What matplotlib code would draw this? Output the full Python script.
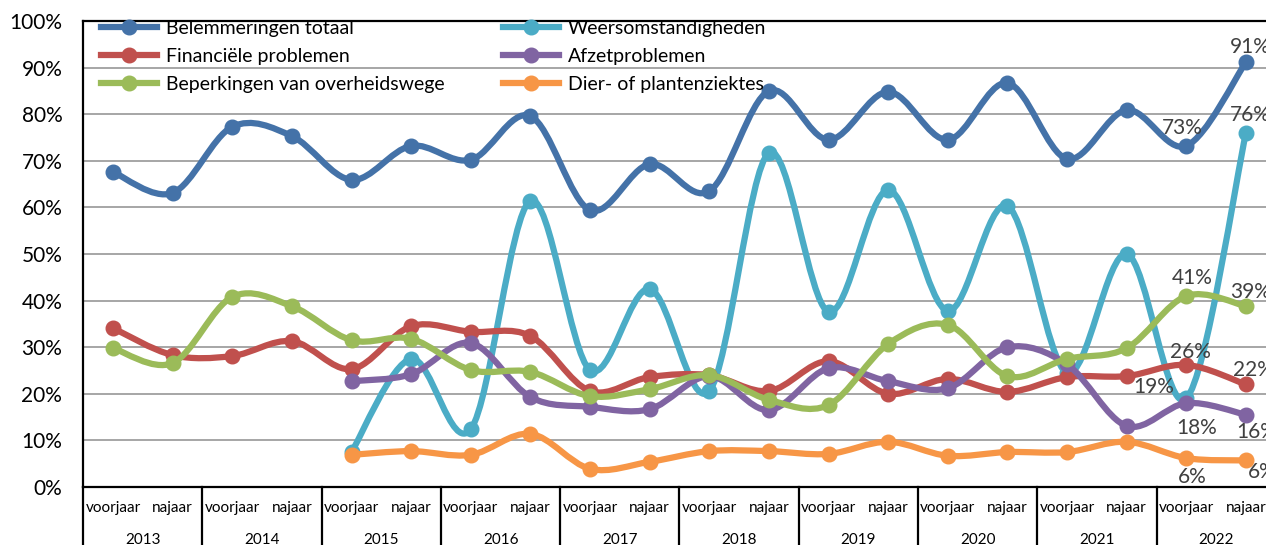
import numpy as np
import matplotlib
matplotlib.use("Agg")
import matplotlib.pyplot as plt
from matplotlib.path import Path
from matplotlib.patches import PathPatch
from matplotlib.lines import Line2D

plt.rcParams['font.family'] = ['Lato', 'DejaVu Sans']

years = ['2013', '2014', '2015', '2016', '2017', '2018', '2019', '2020', '2021', '2022']
seasons = ['voorjaar', 'najaar']
nan = np.nan

belemmeringen = [67.6, 63.1, 77.3, 75.3, 65.9, 73.2, 70.2, 79.6, 59.4, 69.3,
                 63.5, 85.0, 74.5, 84.8, 74.5, 86.7, 70.4, 80.9, 73.2, 91.2]
weer = [nan, nan, nan, nan, 7.5, 27.5, 12.4, 61.4, 25.1, 42.5,
        20.6, 71.7, 37.6, 63.7, 37.8, 60.3, 24.5, 50.0, 19.0, 76.0]
financieel = [34.1, 28.3, 28.1, 31.3, 25.3, 34.5, 33.3, 32.4, 20.6, 23.6,
              24.0, 20.6, 27.0, 20.0, 23.2, 20.4, 23.6, 23.8, 26.2, 22.0]
afzet = [nan, nan, nan, nan, 22.7, 24.2, 30.9, 19.3, 17.2, 16.7,
         23.8, 16.5, 25.5, 22.7, 21.2, 30.0, 26.3, 13.1, 18.0, 15.5]
beperkingen = [29.8, 26.6, 40.8, 38.8, 31.5, 31.8, 25.1, 24.7, 19.5, 21.0,
               24.0, 18.7, 17.6, 30.7, 34.8, 23.8, 27.5, 29.8, 41.0, 38.8]
dier = [nan, nan, nan, nan, 6.9, 7.7, 6.9, 11.4, 3.9, 5.4,
        7.7, 7.7, 7.1, 9.7, 6.7, 7.5, 7.5, 9.7, 6.2, 5.7]

# label texts for the last two points of each series
lab_belemmeringen = ['73%', '91%']
lab_weer = ['19%', '76%']
lab_financieel = ['26%', '22%']
lab_afzet = ['18%', '16%']
lab_beperkingen = ['41%', '39%']
lab_dier = ['6%', '6%']

# (name, values, colour, labels, label offsets (dx in categories, dy in % points))
series = [
    ('Belemmeringen totaal', belemmeringen, '#4472A8', lab_belemmeringen,
     [(-0.07, 3.8), (0.07, 3.2)]),
    ('Weersomstandigheden', weer, '#4BACC6', lab_weer,
     [(-0.55, 2.5), (0.07, 3.8)]),
    ('Financiële problemen', financieel, '#C0504D', lab_financieel,
     [(0.07, 2.8), (0.12, 3.1)]),
    ('Afzetproblemen', afzet, '#8064A2', lab_afzet,
     [(0.17, -5.3), (0.18, -3.7)]),
    ('Beperkingen van overheidswege', beperkingen, '#9BBB59', lab_beperkingen,
     [(0.1, 3.8), (0.07, 3.0)]),
    ('Dier- of plantenziektes', dier, '#F79646', lab_dier,
     [(0.1, -4.1), (0.27, -2.5)]),
]

W, H = 1266, 545
fig = plt.figure(figsize=(W / 100, H / 100), dpi=100)
ax = fig.add_axes([83.2 / W, 1 - 487 / H, 1192.6 / W, 466 / H])

n = len(belemmeringen)
x = np.arange(n)


def smooth_path(xs, ys):
    pts = np.column_stack([xs, ys])
    verts = [pts[0]]
    codes = [Path.MOVETO]
    m = len(pts)
    for i in range(m - 1):
        p0 = pts[i - 1] if i > 0 else pts[i]
        p1 = pts[i]
        p2 = pts[i + 1]
        p3 = pts[i + 2] if i + 2 < m else pts[i + 1]
        c1 = p1 + (p2 - p0) / 6.0
        c2 = p2 - (p3 - p1) / 6.0
        verts += [c1, c2, p2]
        codes += [Path.CURVE4] * 3
    return Path(verts, codes)


lw = 4.5
ms = 10.5
for k, (name, vals, col, labels, offs) in enumerate(series):
    v = np.array(vals, dtype=float)
    ok = ~np.isnan(v)
    xs, ys = x[ok], v[ok]
    patch = PathPatch(smooth_path(xs, ys), facecolor='none', edgecolor=col,
                      lw=lw, capstyle='round', joinstyle='round', zorder=3 + k)
    ax.add_patch(patch)
    ax.plot(xs, ys, 'o', color=col, ms=ms, zorder=3 + k, clip_on=False)
    for j, (txt, (dx, dy)) in enumerate(zip(labels, offs)):
        idx = n - 2 + j
        ax.text(x[idx] + dx, v[idx] + dy, txt, ha='center', va='center', fontsize=15,
                color='#404040', zorder=20, clip_on=False)

ax.set_xlim(-0.5, n - 0.5)
ax.set_ylim(0, 100)
ax.set_yticks(np.arange(0, 101, 10))
ax.set_yticklabels([f'{t}%' for t in range(0, 101, 10)], fontsize=15)
ax.tick_params(axis='y', length=0, pad=15)
ax.yaxis.grid(True, color='#A6A6A6', lw=1.4)
ax.set_axisbelow(True)
ax.set_xticks([])
for s in ['left', 'top', 'bottom']:
    ax.spines[s].set_color('black')
    ax.spines[s].set_linewidth(1.6)
ax.spines['right'].set_visible(False)

tr = ax.get_xaxis_transform()
for i in range(n):
    ax.text(x[i], -0.045, seasons[i % 2], transform=tr, ha='center', va='center',
            fontsize=11, color='black')
for yi, yr in enumerate(years):
    ax.text(2 * yi + 0.5, -0.114, yr, transform=tr, ha='center', va='center',
            fontsize=11, color='black')
for b in range(0, n + 1, 2):
    ax.add_line(Line2D([b - 0.5, b - 0.5], [0, -0.3], transform=tr, color='black',
                       lw=1.6, clip_on=False))

handles = [Line2D([], [], color=c, lw=lw, marker='o', ms=ms) for _, _, c, _, _ in series]
names = [s[0] for s in series]
order1 = [0, 2, 4]
order2 = [1, 3, 5]
common = dict(loc='upper left', bbox_transform=fig.transFigure, frameon=False, fontsize=14,
              handlelength=2.9, handletextpad=0.45, labelspacing=0.56,
              borderpad=0, borderaxespad=0, numpoints=1)
leg1 = ax.legend([handles[i] for i in order1], [names[i] for i in order1],
                 bbox_to_anchor=(101 / W, 1 - 20 / H), **common)
ax.add_artist(leg1)
leg2 = ax.legend([handles[i] for i in order2], [names[i] for i in order2],
                 bbox_to_anchor=(503 / W, 1 - 20 / H), **common)
leg1.set_zorder(30)
leg2.set_zorder(30)

fig.savefig('out.png', dpi=100)
